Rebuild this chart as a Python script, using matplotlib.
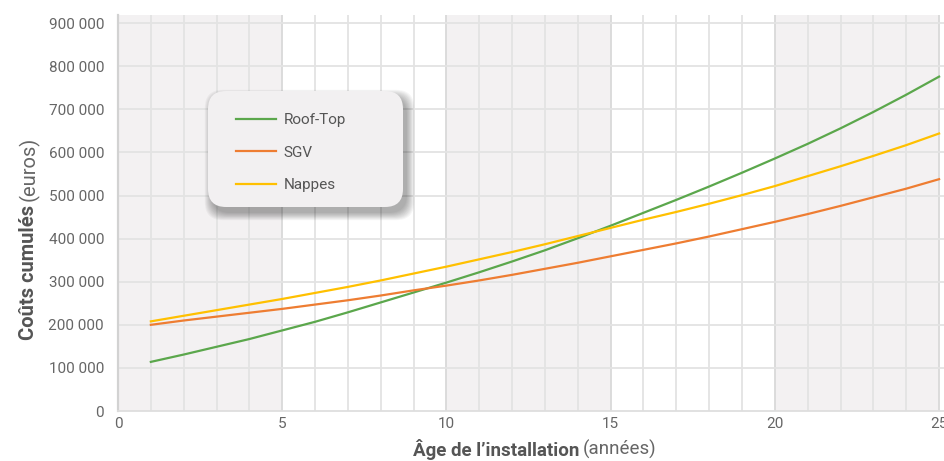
import matplotlib
matplotlib.use("Agg")
import matplotlib.pyplot as plt
from matplotlib.patches import FancyBboxPatch
from matplotlib.ticker import FuncFormatter

# years and cumulated costs (euros)
years = list(range(1, 26))
roof_top = [114000, 131000, 149000, 167000, 187000, 207000, 229000, 252000, 275000, 298000,
            322000, 347000, 373000, 401000, 430000, 460000, 490000, 521000, 553000, 586000,
            620000, 656000, 694000, 734000, 776000]
sgv = [200000, 210000, 219000, 228000, 237000, 247000, 257000, 268000, 280000, 291000,
       303000, 316000, 330000, 344000, 359000, 374000, 389000, 405000, 422000, 439000,
       457000, 476000, 496000, 516000, 538000]
nappes = [208000, 221000, 234000, 247000, 260000, 274000, 288000, 303000, 319000, 335000,
          352000, 369000, 387000, 406000, 425000, 444000, 462000, 481000, 501000, 522000,
          545000, 568000, 592000, 617000, 644000]
series = [("Roof-Top", roof_top, "#5ba74c"),
          ("SGV", sgv, "#ee7d32"),
          ("Nappes", nappes, "#ffc000")]
x_ticks = [0, 5, 10, 15, 20, 25]
y_ticks = [0, 100000, 200000, 300000, 400000, 500000, 600000, 700000, 800000, 900000]

plt.rcParams["font.family"] = ["Roboto", "DejaVu Sans"]

fig = plt.figure(figsize=(9.45, 4.61), dpi=100)
ax = fig.add_axes([118 / 945, 50 / 461, 1 - 118 / 945, (411 - 15) / 461])

# background bands
for start in [0, 10, 20]:
    ax.axvspan(start, start + 5, color="#f3f1f2", lw=0, zorder=0)

ax.set_xlim(0, 25.18)
ax.set_ylim(0, 919000)

# grid
for xv in range(1, 26):
    c = "#d9d9d9" if xv % 5 == 0 else "#e3e3e3"
    ax.axvline(xv, color=c, lw=1.3, zorder=1)
for yv in y_ticks[1:]:
    ax.axhline(yv, color="#e3e3e3", lw=1.3, zorder=1)

for name, vals, col in series:
    ax.plot(years, vals, color=col, lw=1.6, label=name, zorder=3)

for s in ["top", "right"]:
    ax.spines[s].set_visible(False)
ax.spines["left"].set_color("#d2d2d2")
ax.spines["left"].set_linewidth(1.6)
ax.spines["bottom"].set_color("#dedede")
ax.spines["bottom"].set_linewidth(1.3)

ax.set_xticks(x_ticks)
ax.set_yticks(y_ticks)
ax.yaxis.set_major_formatter(FuncFormatter(lambda v, p: f"{int(v):,}".replace(",", " ")))
ax.tick_params(length=0, labelsize=11, labelcolor="#666666")
ax.tick_params(axis="y", pad=10)
ax.tick_params(axis="x", pad=4)

# legend box with soft shadow
bx, by, bw, bh = 2.08, 2.54, 1.95, 1.16
for i in range(10):
    g = 0.008 * i
    sh = FancyBboxPatch((bx + 0.04 - g, by - 0.06 - g), bw + 2 * g, bh + 2 * g,
                        boxstyle="round,pad=0,rounding_size=0.18",
                        transform=fig.dpi_scale_trans, facecolor="black",
                        edgecolor="none", alpha=0.035, zorder=4)
    ax.add_patch(sh)
box = FancyBboxPatch((bx, by), bw, bh, boxstyle="round,pad=0,rounding_size=0.18",
                     transform=fig.dpi_scale_trans, facecolor="#f2f0f1",
                     edgecolor="none", zorder=5)
ax.add_patch(box)
leg = ax.legend(loc="upper left", bbox_to_anchor=(236 / 945, 1 - 113 / 461),
                bbox_transform=fig.transFigure, frameon=False, fontsize=11,
                handlelength=2.6, handletextpad=0.5, labelspacing=1.22,
                borderpad=0, borderaxespad=0)
leg.set_zorder(6)
for t in leg.get_texts():
    t.set_color("#555555")

# axis labels: bold part + normal part
xl = fig.text(579 / 945, 1 - 449 / 461, "Âge de l’installation", fontsize=13.5,
              fontweight="bold", color="#555555", ha="right", va="center")
ax.annotate("(années)", xy=(1, 0.5), xycoords=xl, xytext=(3, 0),
            textcoords="offset points", fontsize=13.5, color="#666666",
            ha="left", va="center")
yl = fig.text(29 / 945, 1 - 340 / 461, "Coûts cumulés", fontsize=14.5,
              fontweight="bold", color="#555555", rotation=90, ha="center", va="bottom")
ax.annotate("(euros)", xy=(0.5, 1), xycoords=yl, xytext=(0, 3),
            textcoords="offset points", fontsize=14.5, color="#666666",
            rotation=90, ha="center", va="bottom")

fig.savefig("out.png", dpi=100)
